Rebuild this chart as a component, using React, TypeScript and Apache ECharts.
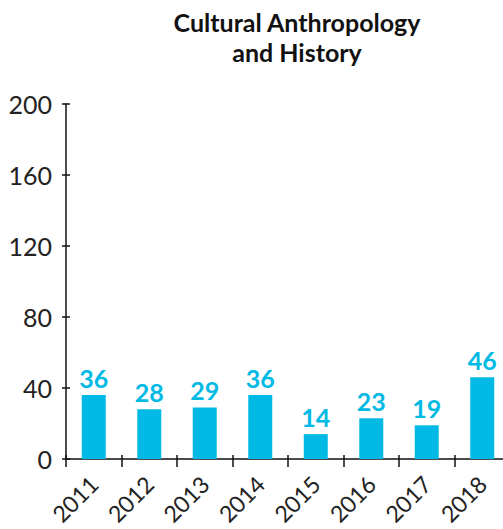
import React, { useEffect, useRef } from "react";
import * as echarts from "echarts";

const categories = ["2011", "2012", "2013", "2014", "2015", "2016", "2017", "2018"];
const values = [36, 28, 29, 36, 14, 23, 19, 46];
const yTicks = { min: 0, max: 200, interval: 40 };
const titleText = "Cultural Anthropology\nand History";

const FONT = "Lato, 'Open Sans', sans-serif";
const CYAN = "#00B9E4";

export default function App() {
  const ref = useRef<HTMLDivElement>(null);
  useEffect(() => {
    if (!ref.current) return;
    const chart = echarts.init(ref.current, null, { renderer: "svg" });
    chart.setOption({
      animation: false,
      title: {
        text: titleText,
        left: 292,
        textAlign: "center",
        top: 2,
        textStyle: { fontFamily: FONT, fontWeight: "bold", fontSize: 25, color: "#111", lineHeight: 30 },
      },
      grid: { left: 66, right: -7, top: 104, bottom: 70, containLabel: false, outerBoundsMode: "none" },
      xAxis: [
        {
          type: "category",
          data: categories,
          axisLine: { lineStyle: { color: "#111", width: 1.5 } },
          axisTick: { show: true, alignWithLabel: false, length: 8, lineStyle: { color: "#111", width: 1.5 } },
          axisLabel: { rotate: 45, fontFamily: FONT, fontSize: 23, color: "#222", margin: 21 },
        },
        {
          type: "category",
          data: categories,
          position: "bottom",
          axisLine: { show: false },
          axisTick: { show: true, inside: true, length: 4, lineStyle: { color: "#111", width: 1.5 } },
          axisLabel: { show: false },
        },
      ],
      yAxis: [
        {
          type: "value",
          min: yTicks.min,
          max: yTicks.max,
          interval: yTicks.interval,
          axisLine: { show: true, lineStyle: { color: "#111", width: 1.5 } },
          axisTick: { show: true, length: 4, lineStyle: { color: "#111", width: 1.5 } },
          splitLine: { show: false },
          axisLabel: { fontFamily: FONT, fontSize: 25, color: "#222", margin: 14 },
        },
        {
          type: "value",
          position: "left",
          min: yTicks.min,
          max: yTicks.max,
          interval: yTicks.interval,
          axisLine: { show: false },
          axisTick: { show: true, inside: true, length: 4, lineStyle: { color: "#111", width: 1.5 } },
          splitLine: { show: false },
          axisLabel: { show: false },
        },
      ],
      series: [
        {
          type: "bar",
          data: values,
          barWidth: 24,
          itemStyle: { color: CYAN },
          label: {
            show: true,
            position: "top",
            distance: 5,
            fontFamily: FONT,
            fontWeight: "bold",
            fontSize: 25,
            color: CYAN,
          },
        },
      ],
    });
    return () => chart.dispose();
  }, []);
  return <div ref={ref} style={{ width: 503, height: 529, position: "absolute", left: 0, top: 0 }} />;
}
